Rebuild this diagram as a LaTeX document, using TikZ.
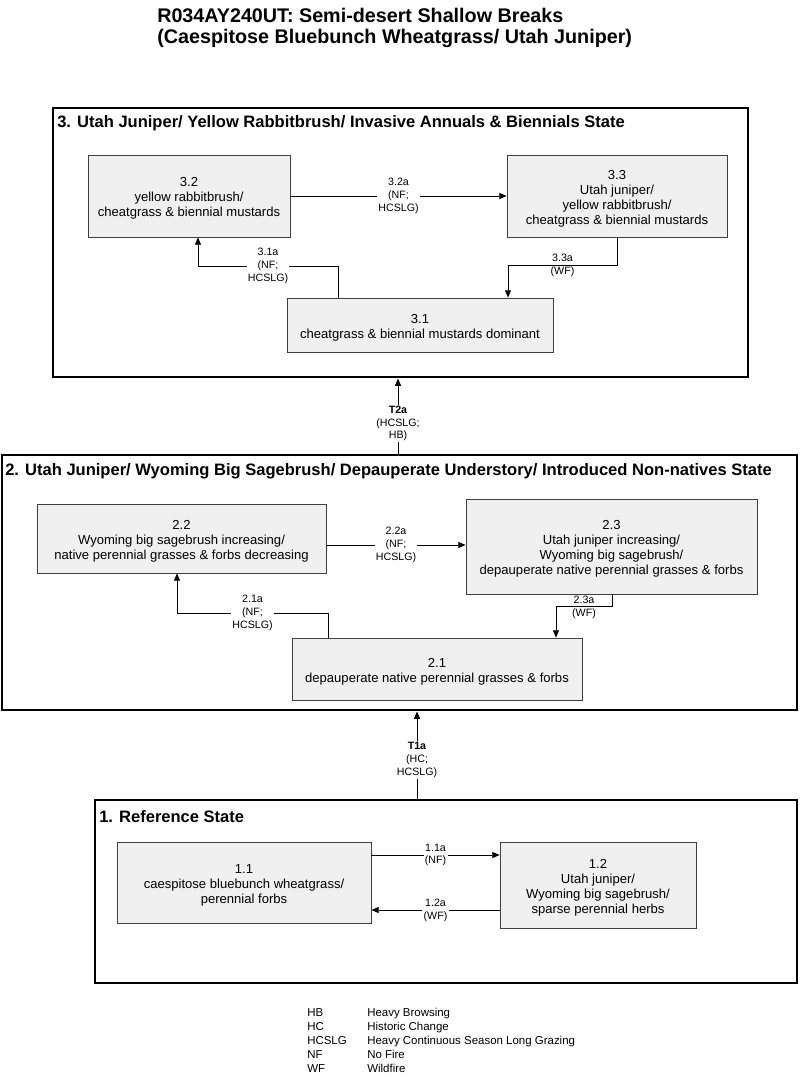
\documentclass[tikz,border=0pt]{standalone}
\usepackage{fontspec}
\setmainfont{Liberation Sans}
\usetikzlibrary{arrows.meta,fit}
\tikzset{
  statebox/.style={draw=black, line width=2.2pt, inner sep=0pt},
  phase/.style={draw=black!75, fill=black!6, line width=0.6pt, inner sep=0pt},
  ptext/.style={inner sep=0pt, align=center, font=\fontsize{9.8}{11.3}\selectfont, yshift=-2pt},
  lbl/.style={fill=white, inner sep=1pt, align=center, font=\fontsize{8}{9.6}\selectfont},
  arr/.style={-{Triangle[length=5.5pt,width=4.5pt]}, line width=0.6pt},
  sttitle/.style={anchor=west, inner sep=0pt, font=\bfseries\fontsize{12.4}{14}\selectfont},
}
\begin{document}
\begin{tikzpicture}[x=0.75pt,y=-0.75pt]
\useasboundingbox (0,0) rectangle (800,1077);
% title
\node[anchor=north west, inner sep=0pt, align=left, font=\bfseries\fontsize{14.8}{15.8}\selectfont]
  (title) at (157,8) {R034AY240UT: Semi-desert Shallow Breaks\\(Caespitose Bluebunch Wheatgrass/ Utah Juniper)};

% ---------- State 3
\node[statebox, fit={(53,108) (748,377)}] (s3) {};
\node[sttitle] (s3t) at (57,123) {3. Utah Juniper/ Yellow Rabbitbrush/ Invasive Annuals \& Biennials State};
\node[phase, fit={(88,155) (290,237)}] (b32) {};
\node[ptext] (t32) at (b32.center) {3.2\\yellow rabbitbrush/\\cheatgrass \& biennial mustards};
\node[phase, fit={(507,155) (727,237)}] (b33) {};
\node[ptext] (t33) at (b33.center) {3.3\\Utah juniper/\\yellow rabbitbrush/\\cheatgrass \& biennial mustards};
\node[phase, fit={(287,298) (553,352)}] (b31) {};
\node[ptext] (t31) at (b31.center) {3.1\\cheatgrass \& biennial mustards dominant};
\coordinate (y32a) at (0,196);
\draw[arr] (b32.east |- y32a) -- (b33.west |- y32a) node[lbl, midway] (l32a) {3.2a\\(NF;\\HCSLG)};
\coordinate (k31a) at (338,266);
\coordinate (k31b) at (198,266);
\draw[arr] (b31.north -| k31a) -- (k31a) -- (k31b) node[lbl, midway] (l31a) {3.1a\\(NF;\\HCSLG)} -- (k31b |- b32.south);
\coordinate (k33a) at (617,265);
\coordinate (k33b) at (508,265);
\draw[arr] (b33.south -| k33a) -- (k33a) -- (k33b) node[lbl, midway, fill=none] (l33a) {3.3a\\(WF)} -- (k33b |- b31.north);

% ---------- State 2
\node[statebox, fit={(2,455) (797,710)}] (s2) {};
\node[sttitle] (s2t) at (5,471) {2. Utah Juniper/ Wyoming Big Sagebrush/ Depauperate Understory/ Introduced Non-natives State};
\node[phase, fit={(37,504) (326,573)}] (b22) {};
\node[ptext] (t22) at (b22.center) {2.2\\Wyoming big sagebrush increasing/\\native perennial grasses \& forbs decreasing};
\node[phase, fit={(466,499) (757,594)}] (b23) {};
\node[ptext] (t23) at (b23.center) {2.3\\Utah juniper increasing/\\Wyoming big sagebrush/\\depauperate native perennial grasses \& forbs};
\node[phase, fit={(292,638) (582,700)}] (b21) {};
\node[ptext] (t21) at (b21.center) {2.1\\depauperate native perennial grasses \& forbs};
\coordinate (y22a) at (0,545);
\draw[arr] (b22.east |- y22a) -- (b23.west |- y22a) node[lbl, midway] (l22a) {2.2a\\(NF;\\HCSLG)};
\coordinate (k21a) at (328,613);
\coordinate (k21b) at (177,613);
\draw[arr] (b21.north -| k21a) -- (k21a) -- (k21b) node[lbl, midway] (l21a) {2.1a\\(NF;\\HCSLG)} -- (k21b |- b22.south);
\coordinate (k23a) at (612,606);
\coordinate (k23b) at (556,606);
\draw[arr] (b23.south -| k23a) -- (k23a) -- (k23b) node[lbl, midway, fill=none, yshift=-1pt] (l23a) {2.3a\\(WF)} -- (k23b |- b21.north);

% ---------- T2a
\coordinate (xt2) at (398,0);
\draw[arr] (s2.north -| xt2) -- (s3.south -| xt2) node[lbl, pos=0.4] (lt2a) {\textbf{T2a}\\(HCSLG;\\HB)};

% ---------- State 1
\node[statebox, fit={(95,800) (797,983)}] (s1) {};
\node[sttitle] (s1t) at (99,817) {1. Reference State};
\node[phase, fit={(117,842) (371,923)}] (b11) {};
\node[ptext] (t11) at (b11.center) {1.1\\caespitose bluebunch wheatgrass/\\perennial forbs};
\node[phase, fit={(500,842) (696,928)}] (b12) {};
\node[ptext] (t12) at (b12.center) {1.2\\Utah juniper/\\Wyoming big sagebrush/\\sparse perennial herbs};
\coordinate (y11a) at (0,855);
\draw[arr] (b11.east |- y11a) -- (b12.west |- y11a) node[lbl, midway] (l11a) {1.1a\\(NF)};
\coordinate (y12a) at (0,910);
\draw[arr] (b12.west |- y12a) -- (b11.east |- y12a) node[lbl, midway] (l12a) {1.2a\\(WF)};

% ---------- T1a
\coordinate (xt1) at (417,0);
\draw[arr] (s1.north -| xt1) -- (s2.south -| xt1) node[lbl, pos=0.44] (lt1a) {\textbf{T1a}\\(HC;\\HCSLG)};

% ---------- legend
\node[anchor=north west, inner sep=0pt, align=left, font=\fontsize{8.6}{10.4}\selectfont] (legend) at (307,1008)
 {\makebox[45pt][l]{HB}Heavy Browsing\\
  \makebox[45pt][l]{HC}Historic Change\\
  \makebox[45pt][l]{HCSLG}Heavy Continuous Season Long Grazing\\
  \makebox[45pt][l]{NF}No Fire\\
  \makebox[45pt][l]{WF}Wildfire};
\end{tikzpicture}
\end{document}
